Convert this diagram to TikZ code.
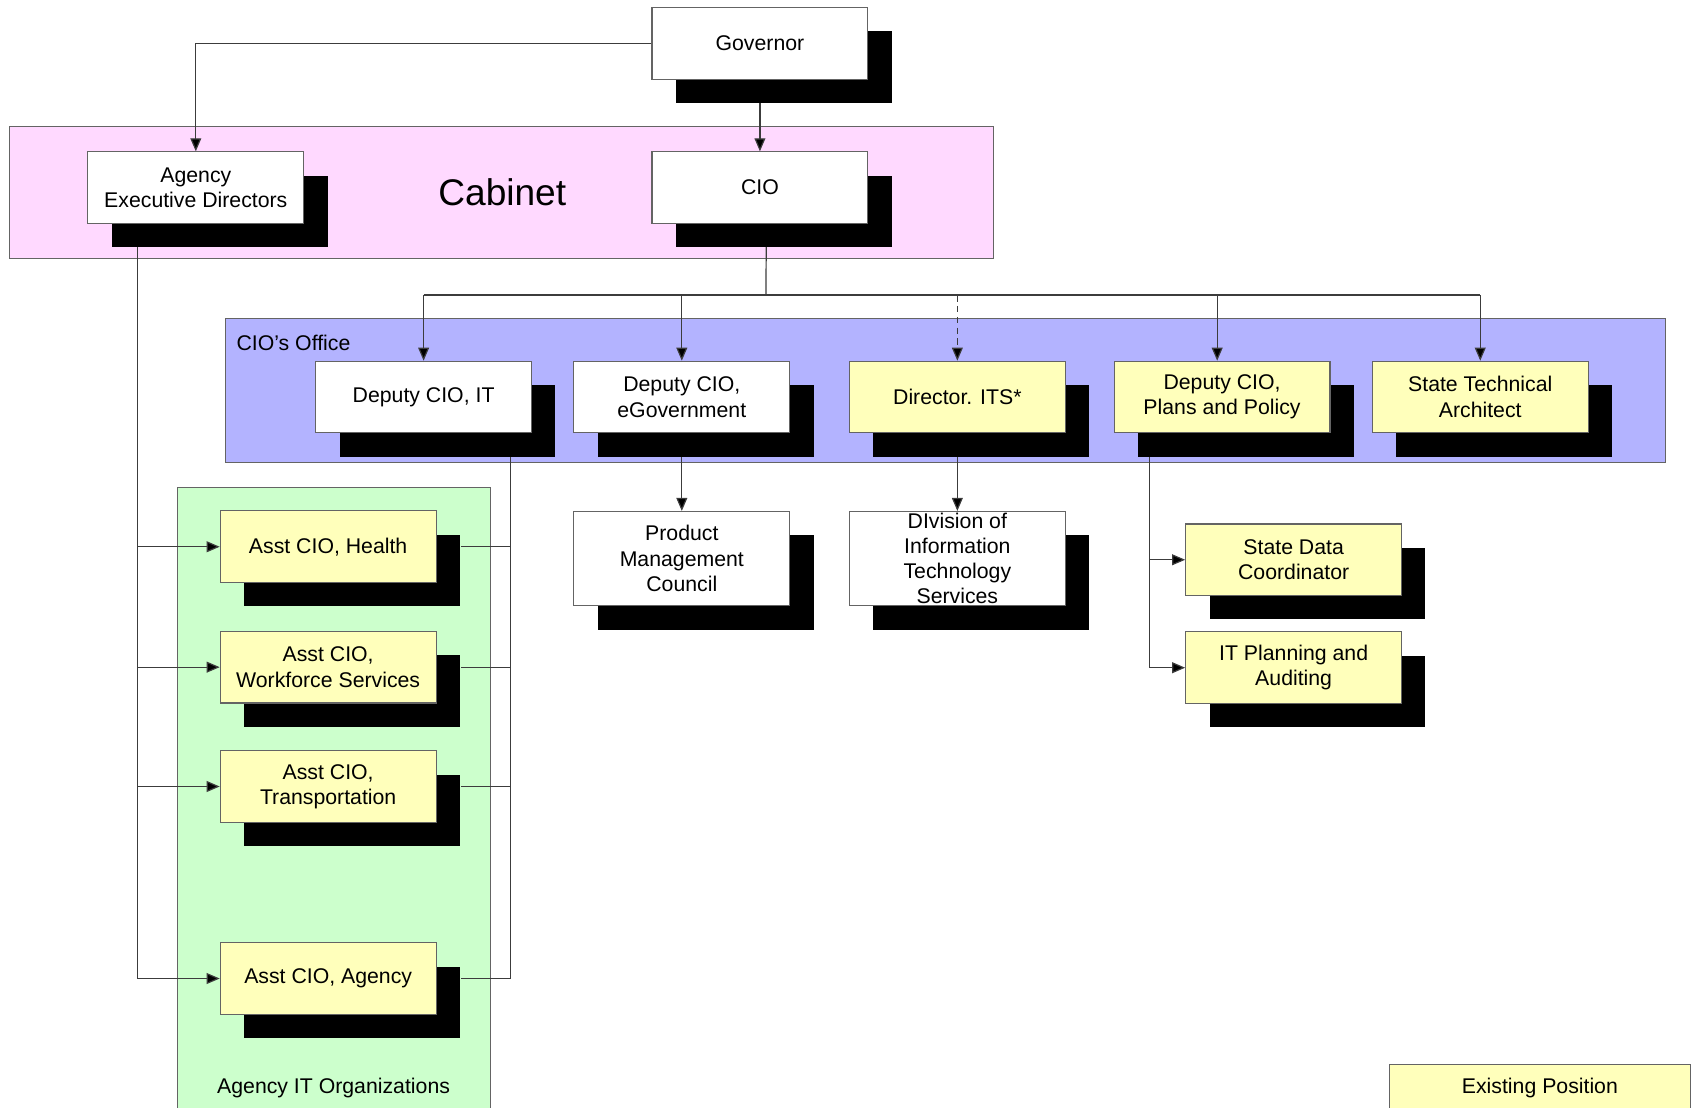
\documentclass[tikz,border=0pt]{standalone}
\usepackage{fontspec}
\setmainfont{Liberation Sans}
\usetikzlibrary{arrows.meta,shadows,calc}
\pgfdeclarelayer{back}
\pgfdeclarelayer{mid}
\pgfsetlayers{back,mid,main}
\definecolor{pinkc}{RGB}{255,217,255}
\definecolor{bluec}{RGB}{179,179,255}
\definecolor{greenc}{RGB}{204,255,204}
\definecolor{yelc}{RGB}{255,255,187}
\definecolor{edgec}{RGB}{100,100,100}
\definecolor{linec}{RGB}{60,60,60}
\tikzset{
  posbox/.style={rectangle, draw=edgec, line width=0.5pt, fill=white,
    minimum width=99.5pt, minimum height=33pt, inner sep=1pt, align=center,
    drop shadow={shadow xshift=11pt, shadow yshift=-11pt, fill=black, draw=none, opacity=1}},
  existbox/.style={posbox, fill=yelc},
  tallbox/.style={minimum height=43.5pt},
  legendbox/.style={rectangle, draw=edgec, line width=0.5pt, fill=yelc,
    minimum width=138.5pt, minimum height=22pt, inner sep=1pt},
  groupbox/.style={draw=edgec, line width=0.5pt},
  conn/.style={draw=linec, line width=0.55pt},
  arr/.style={conn, -{Triangle[length=6pt,width=5pt,fill=black]}},
}
\begin{document}
\begin{tikzpicture}[x=0.5pt,y=-0.5pt,font=\fontsize{9.8}{11.7}\selectfont]
\useasboundingbox (0,0) rectangle (1568,1021);

% nodes
\node[posbox] (gov) at (700.5,40) {Governor};
\node[posbox] (aed) at (180.5,173) {Agency\\Executive Directors};
\node[posbox] (cio) at (700.5,173) {CIO};
\node[font=\fontsize{17.1}{20}\selectfont] (cab) at (463,177) {Cabinet};

\node[anchor=west] (office) at (211,316) {CIO's Office};
\node[posbox] (dit) at (390.5,366) {Deputy CIO, IT};
\node[posbox] (egov) at (628.5,366) {Deputy CIO,\\eGovernment};
\node[existbox] (its) at (882.5,366) {Director. ITS*};
\node[existbox] (plans) at (1126.5,366) {Deputy CIO,\\Plans and Policy};
\node[existbox] (sta) at (1364.5,366) {State Technical\\Architect};

\node[posbox,tallbox] (pmc) at (628.5,515) {Product\\Management\\Council};
\node[posbox,tallbox,inner ysep=0pt,font=\fontsize{9.8}{11.5}\selectfont] (dits) at (882.5,515) {DIvision of\\Information\\Technology\\Services};

\node[existbox] (sdc) at (1192.5,516) {State Data\\Coordinator};
\node[existbox] (itpa) at (1192.5,615.5) {IT Planning and\\Auditing};

\node[existbox] (health) at (302.5,504) {Asst CIO, Health};
\node[existbox] (wfs) at (302.5,615) {Asst CIO,\\Workforce Services};
\node[existbox] (trans) at (302.5,725) {Asst CIO,\\Transportation};
\node[existbox] (agency) at (302.5,902) {Asst CIO, Agency};
\node (aito) at (307.5,1003) {Agency IT Organizations};

\node[legendbox] (legend) at (1419.5,1003) {Existing Position};

% containers
\begin{pgfonlayer}{back}
  \filldraw[groupbox, fill=pinkc] (9,117) rectangle (916,238);
  \filldraw[groupbox, fill=bluec] (208,294) rectangle (1535,426);
  \filldraw[groupbox, fill=greenc] (164,449) rectangle (452,1040);
\end{pgfonlayer}

% connectors
\begin{pgfonlayer}{mid}
  \draw[arr] (gov.west) -| (aed.north);
  \draw[arr] (gov.south) -- (cio.north);

  \coordinate (bus) at (706,272);
  \draw[conn] ([xshift=3pt]cio.south) -- (bus);
  \draw[conn] (dit.north |- bus) -- (sta.north |- bus);
  \draw[arr] (dit.north |- bus) -- (dit.north);
  \draw[arr] (egov.north |- bus) -- (egov.north);
  \draw[arr, dash pattern=on 3pt off 2pt] (its.north |- bus) -- (its.north);
  \draw[arr] ([xshift=-2.25pt]plans.north |- bus) -- ([xshift=-2.25pt]plans.north);
  \draw[arr] (sta.north |- bus) -- (sta.north);

  \draw[arr] (egov.south) -- (pmc.north);
  \draw[arr] (its.south) -- (dits.north);

  \coordinate (pl) at ([xshift=16.5pt]plans.south west);
  \draw[arr] (pl) |- (sdc.west);
  \draw[arr] (pl) |- (itpa.west);

  \coordinate (al) at ([xshift=23pt]aed.south west);
  \draw[arr] (al) |- (health.west);
  \draw[arr] (al) |- (wfs.west);
  \draw[arr] (al) |- (trans.west);
  \draw[arr] (al) |- (agency.west);

  \coordinate (dr) at ([xshift=-10pt]dit.south east);
  \draw[conn] (dr) |- ([xshift=11pt]health.east);
  \draw[conn] (dr) |- ([xshift=11pt]wfs.east);
  \draw[conn] (dr) |- ([xshift=11pt]trans.east);
  \draw[conn] (dr) |- ([xshift=11pt]agency.east);
\end{pgfonlayer}
\end{tikzpicture}
\end{document}
